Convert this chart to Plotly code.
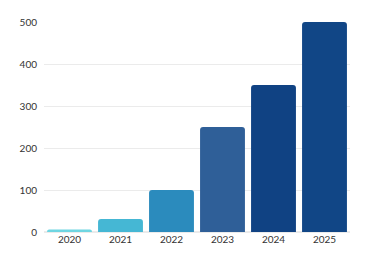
import plotly.graph_objects as go

years = ["2020", "2021", "2022", "2023", "2024", "2025"]
values = [6, 31, 100, 250, 350, 500]
colors = ["#6fd6e2", "#45b7d4", "#2b8bbd", "#2f5f98", "#104283", "#114686"]
y_ticks = [0, 100, 200, 300, 400, 500]

fig = go.Figure(go.Bar(x=years, y=values, marker=dict(color=colors, line=dict(width=0))))
fig.update_layout(
    width=375, height=260,
    margin=dict(l=44, r=25, t=22, b=28),
    paper_bgcolor="white", plot_bgcolor="white",
    bargap=0.12, barcornerradius=3,
    font=dict(family="Lato, Open Sans, sans-serif", size=10, color="#333333"),
    showlegend=False,
)
fig.update_xaxes(showgrid=False, showline=False, ticks="", tickfont=dict(size=10, color="#333333"))
fig.update_yaxes(range=[0, 500], tickvals=y_ticks, showgrid=True, gridcolor="#ebebeb", gridwidth=1,
                 zeroline=True, zerolinecolor="#ebebeb", showline=False, ticks="", ticklabelstandoff=6,
                 tickfont=dict(size=10, color="#333333"))
fig.write_html("out.html")
